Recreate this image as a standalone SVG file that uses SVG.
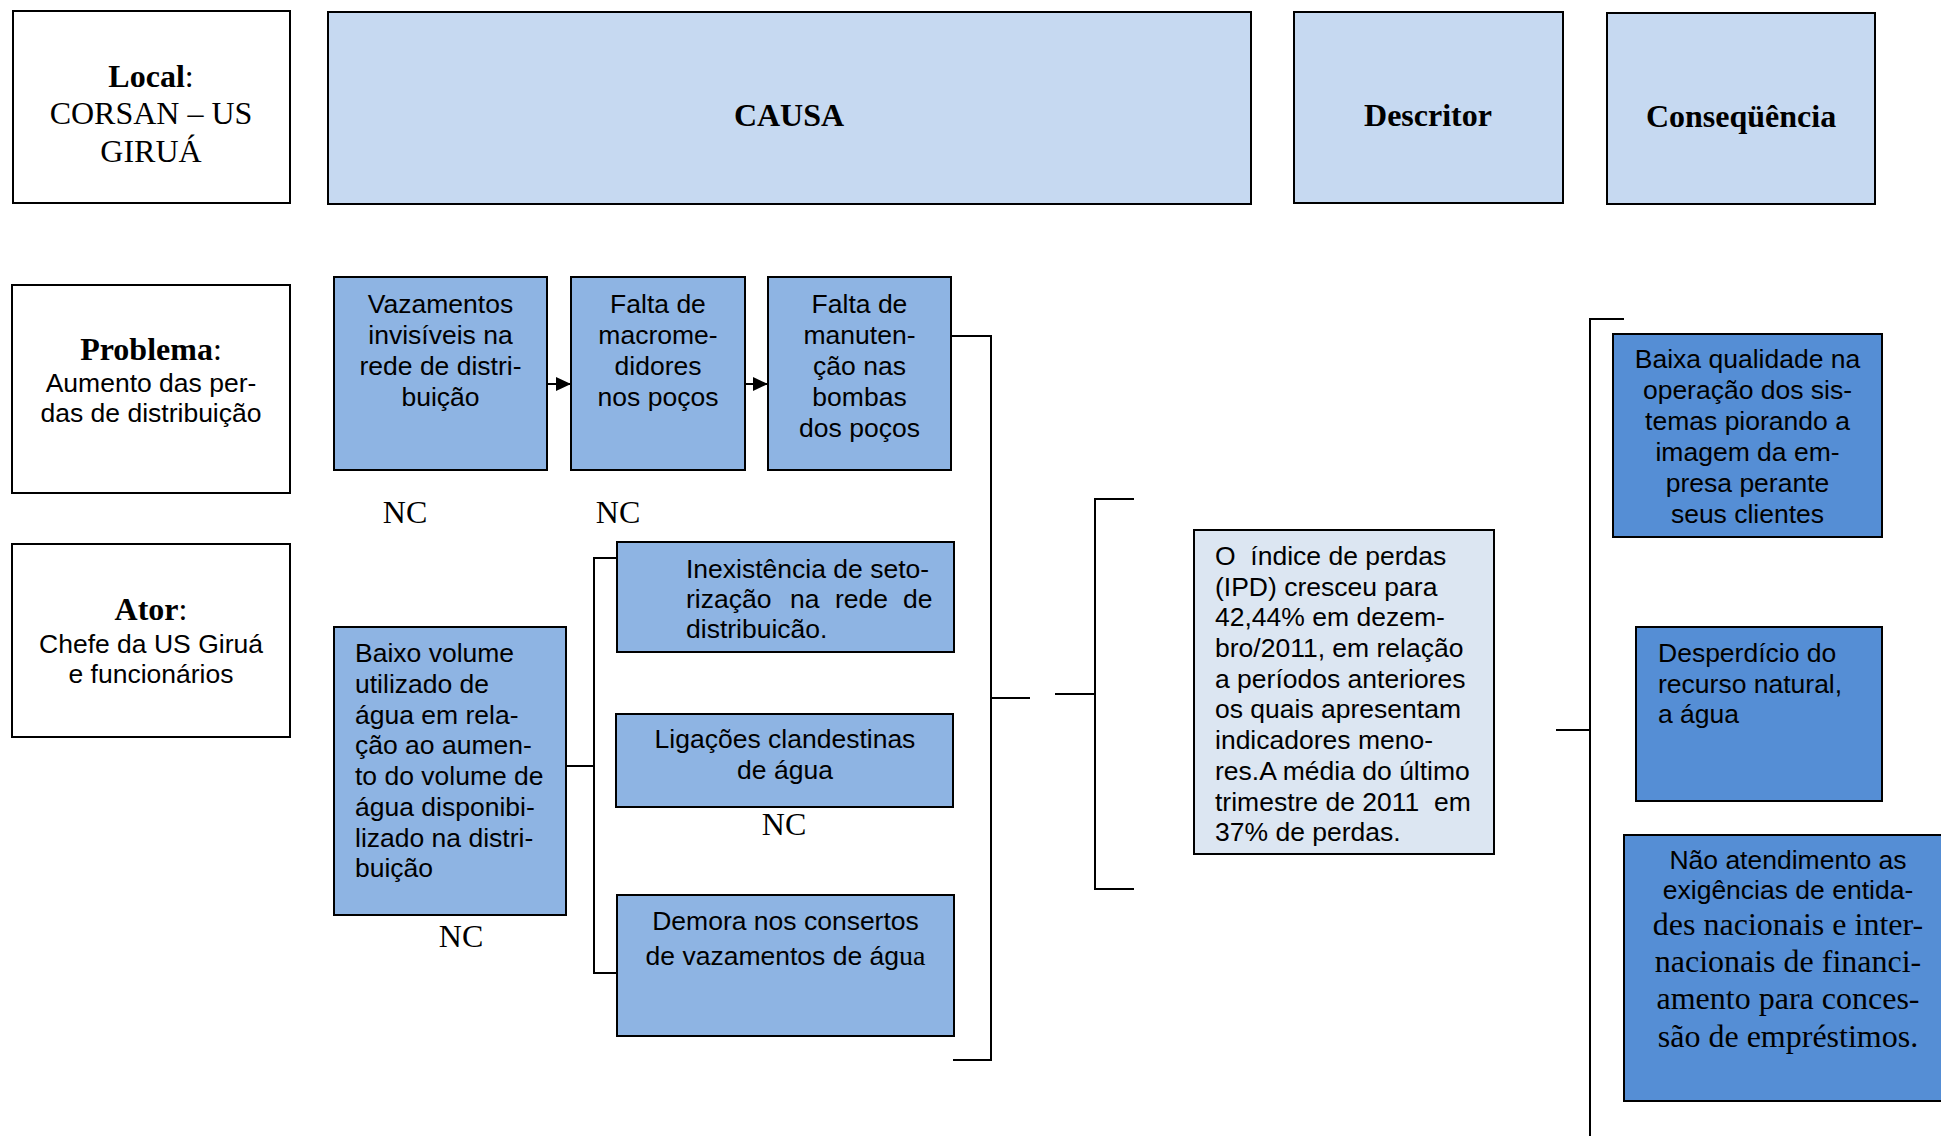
<svg xmlns="http://www.w3.org/2000/svg" width="1941" height="1136" viewBox="0 0 1941 1136">
<defs>
<style>
.box{stroke:#000;stroke-width:2}
.wh{fill:#fff}
.hd{fill:#c6d9f1}
.c1{fill:#8eb4e3}
.c2{fill:#558ed5}
.ds{fill:#dce6f2}
.t{font-family:"Liberation Serif","Times New Roman",serif;font-size:32px;fill:#000}
.b{font-weight:bold}
.a{font-family:"Liberation Sans",Arial,sans-serif;font-size:26.5px;fill:#000}
.m{text-anchor:middle}
.ln{stroke:#000;stroke-width:2;fill:none}
</style>
<marker id="ah" markerUnits="userSpaceOnUse" markerWidth="15" markerHeight="14" refX="15" refY="7" orient="auto">
<path d="M0,0 L15,7 L0,14 z" fill="#000"/>
</marker>
</defs>
<rect width="1941" height="1136" fill="#fff"/>

<g id="local">
<rect class="box wh" x="13" y="11" width="277" height="192"/>
<text class="t m" x="151" y="87"><tspan class="b">Local</tspan>:</text>
<text class="t m" x="151" y="124">CORSAN – US</text>
<text class="t m" x="151" y="162">GIRUÁ</text>
</g>
<g id="causa">
<rect class="box hd" x="328" y="12" width="923" height="192"/>
<text class="t b m" x="789" y="126">CAUSA</text>
</g>
<g id="descritor">
<rect class="box hd" x="1294" y="12" width="269" height="191"/>
<text class="t b m" x="1428" y="126">Descritor</text>
</g>
<g id="consequencia">
<rect class="box hd" x="1607" y="13" width="268" height="191"/>
<text class="t b m" x="1741" y="127">Conseqüência</text>
</g>

<g id="problema">
<rect class="box wh" x="12" y="285" width="278" height="208"/>
<text class="t m" x="151" y="360"><tspan class="b">Problema</tspan>:</text>
<text class="a m" x="151" y="392">Aumento das per-</text>
<text class="a m" x="151" y="422">das de distribuição</text>
</g>
<g id="ator">
<rect class="box wh" x="12" y="544" width="278" height="193"/>
<text class="t m" x="151" y="620"><tspan class="b">Ator</tspan>:</text>
<text class="a m" x="151" y="653">Chefe da US Giruá</text>
<text class="a m" x="151" y="683">e funcionários</text>
</g>

<g id="vazamentos">
<rect class="box c1" x="334" y="277" width="213" height="193"/>
<text class="a m" x="440.5" y="313">Vazamentos</text>
<text class="a m" x="440.5" y="344">invisíveis na</text>
<text class="a m" x="440.5" y="375">rede de distri-</text>
<text class="a m" x="440.5" y="406">buição</text>
</g>
<g id="macromedidores">
<rect class="box c1" x="571" y="277" width="174" height="193"/>
<text class="a m" x="658" y="313">Falta de</text>
<text class="a m" x="658" y="344">macrome-</text>
<text class="a m" x="658" y="375">didores</text>
<text class="a m" x="658" y="406">nos poços</text>
</g>
<g id="manutencao">
<rect class="box c1" x="768" y="277" width="183" height="193"/>
<text class="a m" x="859.5" y="313">Falta de</text>
<text class="a m" x="859.5" y="344">manuten-</text>
<text class="a m" x="859.5" y="375">ção nas</text>
<text class="a m" x="859.5" y="406">bombas</text>
<text class="a m" x="859.5" y="437">dos poços</text>
</g>
<g id="nc1"><text class="t m" x="405" y="523">NC</text></g>
<g id="nc2"><text class="t m" x="618" y="523">NC</text></g>

<g id="baixo-volume">
<rect class="box c1" x="334" y="627" width="232" height="288"/>
<text class="a" x="355" y="662">Baixo volume</text>
<text class="a" x="355" y="693">utilizado de</text>
<text class="a" x="355" y="724">água em rela-</text>
<text class="a" x="355" y="754">ção ao aumen-</text>
<text class="a" x="355" y="785">to do volume de</text>
<text class="a" x="355" y="816">água disponibi-</text>
<text class="a" x="355" y="847">lizado na distri-</text>
<text class="a" x="355" y="877">buição</text>
</g>
<g id="nc3"><text class="t m" x="461" y="947">NC</text></g>

<g id="inexistencia">
<rect class="box c1" x="617" y="542" width="337" height="110"/>
<text class="a" x="686" y="578">Inexistência de seto-</text>
<text class="a" y="608"><tspan x="686">rização</tspan><tspan x="790">na</tspan><tspan x="835">rede</tspan><tspan x="903">de</tspan></text>
<text class="a" x="686" y="638">distribuicão.</text>
</g>
<g id="ligacoes">
<rect class="box c1" x="616" y="714" width="337" height="93"/>
<text class="a m" x="785" y="748">Ligações clandestinas</text>
<text class="a m" x="785" y="779">de água</text>
</g>
<g id="nc4"><text class="t m" x="784" y="835">NC</text></g>
<g id="demora">
<rect class="box c1" x="617" y="895" width="337" height="141"/>
<text class="a m" x="785.5" y="930">Demora nos consertos</text>
<text class="a m" x="785.5" y="965">de vazamentos de ág<tspan class="t" style="font-size:28px">ua</tspan></text>
</g>

<g id="descritor-texto">
<rect class="box ds" x="1194" y="530" width="300" height="324"/>
<text class="a" x="1215" y="565" xml:space="preserve">O  índice de perdas</text>
<text class="a" x="1215" y="596">(IPD) cresceu para</text>
<text class="a" x="1215" y="626">42,44% em dezem-</text>
<text class="a" x="1215" y="657">bro/2011, em relação</text>
<text class="a" x="1215" y="688">a períodos anteriores</text>
<text class="a" x="1215" y="718">os quais apresentam</text>
<text class="a" x="1215" y="749">indicadores meno-</text>
<text class="a" x="1215" y="780">res.A média do último</text>
<text class="a" x="1215" y="811" xml:space="preserve">trimestre de 2011  em</text>
<text class="a" x="1215" y="841">37% de perdas.</text>
</g>

<g id="consequencia-1">
<rect class="box c2" x="1613" y="334" width="269" height="203"/>
<text class="a m" x="1747.5" y="368">Baixa qualidade na</text>
<text class="a m" x="1747.5" y="399">operação dos sis-</text>
<text class="a m" x="1747.5" y="430">temas piorando a</text>
<text class="a m" x="1747.5" y="461">imagem da em-</text>
<text class="a m" x="1747.5" y="492">presa perante</text>
<text class="a m" x="1747.5" y="523">seus clientes</text>
</g>
<g id="consequencia-2">
<rect class="box c2" x="1636" y="627" width="246" height="174"/>
<text class="a" x="1658" y="662">Desperdício do</text>
<text class="a" x="1658" y="693">recurso natural,</text>
<text class="a" x="1658" y="723">a água</text>
</g>
<g id="consequencia-3">
<rect class="box c2" x="1624" y="835" width="330" height="266"/>
<text class="a m" x="1788" y="869">Não atendimento as</text>
<text class="a m" x="1788" y="899">exigências de entida-</text>
<text class="t m" x="1788" y="935">des nacionais e inter-</text>
<text class="t m" x="1788" y="972">nacionais de financi-</text>
<text class="t m" x="1788" y="1009">amento para conces-</text>
<text class="t m" x="1788" y="1047">são de empréstimos.</text>
</g>

<g id="connectors">
<line class="ln" x1="547" y1="384" x2="571" y2="384" marker-end="url(#ah)"/>
<line class="ln" x1="745" y1="384" x2="768" y2="384" marker-end="url(#ah)"/>
<polyline class="ln" points="951,336 991,336 991,1060 953,1060"/>
<line class="ln" x1="991" y1="698" x2="1030" y2="698"/>
<line class="ln" x1="1055" y1="694" x2="1095" y2="694"/>
<polyline class="ln" points="1134,499 1095,499 1095,889 1134,889"/>
<line class="ln" x1="567" y1="766" x2="594" y2="766"/>
<polyline class="ln" points="617,558 594,558 594,973 617,973"/>
<polyline class="ln" points="1624,319 1590,319 1590,1136"/>
<line class="ln" x1="1556" y1="730" x2="1590" y2="730"/>
</g>
</svg>
